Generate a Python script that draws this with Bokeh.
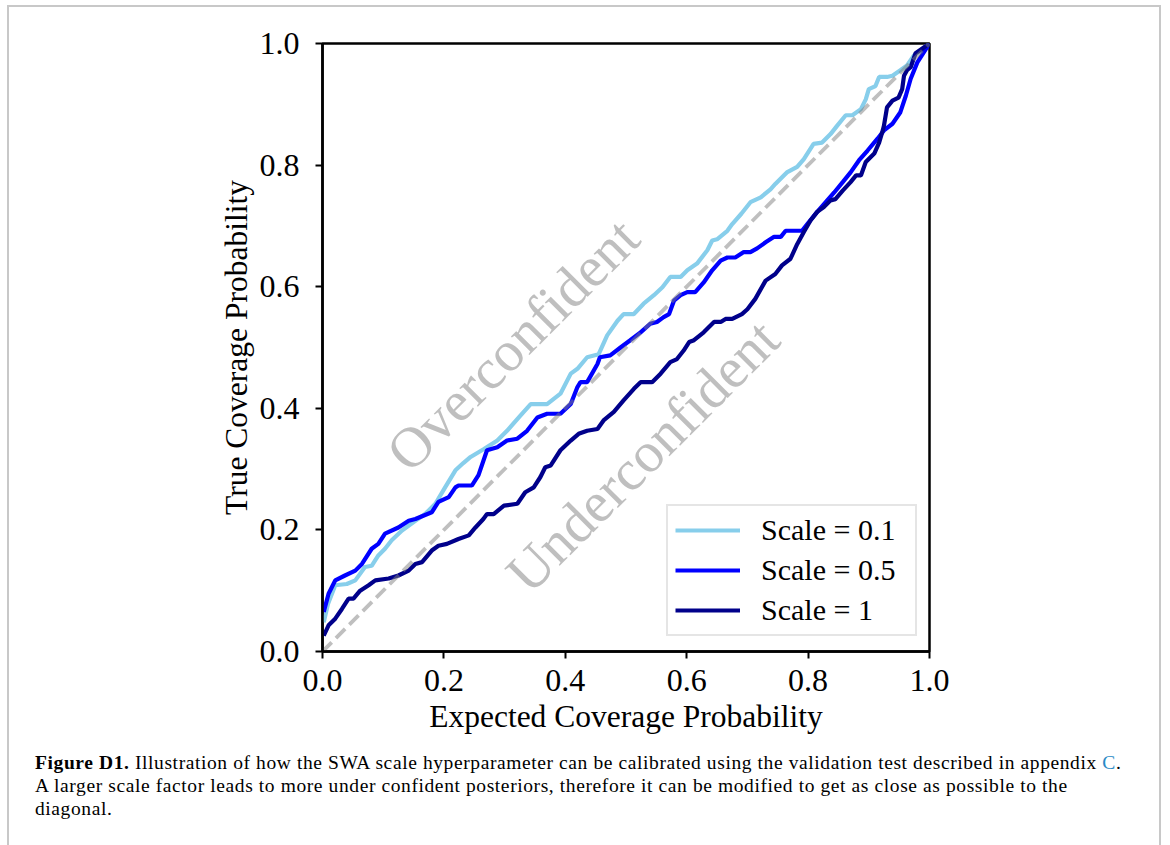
from bokeh.plotting import figure
from bokeh.layouts import column
from bokeh.models import (Range1d, FixedTicker, PrintfTickFormatter, Legend, LegendItem,
                          Label, Div)
from bokeh.embed import file_html
from bokeh.resources import INLINE

# ---- data ----
x_s01 = [0.002, 0.009, 0.021, 0.040, 0.054, 0.070, 0.081, 0.092, 0.103, 0.114,
         0.131, 0.153, 0.169, 0.186, 0.202, 0.219, 0.232, 0.244, 0.266, 0.288,
         0.304, 0.326, 0.343, 0.370, 0.392, 0.409, 0.420, 0.436, 0.455, 0.469,
         0.486, 0.496, 0.513, 0.529, 0.546, 0.560, 0.573, 0.590, 0.601, 0.617,
         0.634, 0.642, 0.650, 0.667, 0.675, 0.690, 0.705, 0.722, 0.738, 0.746,
         0.760, 0.765, 0.782, 0.793, 0.809, 0.823, 0.837, 0.848, 0.862, 0.873,
         0.887, 0.895, 0.900, 0.911, 0.917, 0.930, 0.939, 0.952, 0.963, 0.974,
         1.0]
y_s01 = [0.048, 0.078, 0.109, 0.111, 0.117, 0.139, 0.141, 0.158, 0.169, 0.183,
         0.199, 0.215, 0.226, 0.243, 0.270, 0.298, 0.310, 0.320, 0.333, 0.347,
         0.363, 0.388, 0.407, 0.407, 0.424, 0.457, 0.465, 0.484, 0.489, 0.520,
         0.544, 0.555, 0.555, 0.572, 0.586, 0.599, 0.616, 0.616, 0.627, 0.638,
         0.660, 0.676, 0.678, 0.692, 0.703, 0.720, 0.739, 0.747, 0.760, 0.769,
         0.783, 0.788, 0.797, 0.810, 0.835, 0.837, 0.851, 0.865, 0.882, 0.882,
         0.892, 0.908, 0.925, 0.930, 0.945, 0.945, 0.947, 0.956, 0.964, 0.980,
         1.0]

x_s05 = [0.002, 0.010, 0.021, 0.037, 0.054, 0.065, 0.081, 0.092, 0.103, 0.125,
         0.142, 0.153, 0.180, 0.191, 0.208, 0.219, 0.224, 0.246, 0.257, 0.271,
         0.288, 0.304, 0.321, 0.337, 0.354, 0.370, 0.392, 0.409, 0.420, 0.425,
         0.436, 0.453, 0.457, 0.474, 0.491, 0.507, 0.524, 0.540, 0.551, 0.562,
         0.571, 0.579, 0.590, 0.601, 0.614, 0.628, 0.642, 0.656, 0.667, 0.680,
         0.694, 0.705, 0.716, 0.730, 0.744, 0.755, 0.763, 0.790, 0.801, 0.815,
         0.829, 0.843, 0.857, 0.870, 0.884, 0.898, 0.914, 0.925, 0.939, 0.952,
         0.961, 0.969, 0.980, 1.0]
y_s05 = [0.065, 0.095, 0.117, 0.125, 0.133, 0.144, 0.169, 0.177, 0.194, 0.204,
         0.215, 0.218, 0.229, 0.246, 0.254, 0.270, 0.273, 0.273, 0.290, 0.331,
         0.336, 0.347, 0.350, 0.363, 0.385, 0.391, 0.391, 0.407, 0.435, 0.443,
         0.443, 0.473, 0.484, 0.487, 0.500, 0.512, 0.525, 0.539, 0.542, 0.550,
         0.555, 0.577, 0.586, 0.591, 0.591, 0.607, 0.627, 0.643, 0.648, 0.648,
         0.657, 0.657, 0.663, 0.673, 0.682, 0.682, 0.692, 0.692, 0.706, 0.723,
         0.739, 0.755, 0.772, 0.788, 0.808, 0.824, 0.843, 0.857, 0.868, 0.887,
         0.914, 0.942, 0.969, 1.0]

x_s1 = [0.002, 0.010, 0.021, 0.032, 0.043, 0.051, 0.062, 0.076, 0.087, 0.109,
        0.125, 0.142, 0.153, 0.164, 0.180, 0.191, 0.205, 0.224, 0.241, 0.252,
        0.265, 0.271, 0.282, 0.299, 0.321, 0.334, 0.348, 0.359, 0.367, 0.376,
        0.392, 0.409, 0.422, 0.436, 0.453, 0.463, 0.480, 0.496, 0.513, 0.524,
        0.543, 0.557, 0.573, 0.584, 0.595, 0.604, 0.612, 0.628, 0.645, 0.656,
        0.664, 0.675, 0.691, 0.700, 0.713, 0.730, 0.746, 0.757, 0.771, 0.782,
        0.793, 0.804, 0.815, 0.826, 0.837, 0.845, 0.857, 0.870, 0.879, 0.887,
        0.895, 0.909, 0.917, 0.923, 0.925, 0.930, 0.939, 0.949, 0.955, 0.958,
        0.963, 0.969, 0.977, 1.0]
y_s1 = [0.026, 0.043, 0.054, 0.070, 0.087, 0.087, 0.100, 0.109, 0.117, 0.120,
        0.125, 0.133, 0.144, 0.147, 0.166, 0.174, 0.177, 0.185, 0.191, 0.204,
        0.218, 0.226, 0.226, 0.240, 0.243, 0.262, 0.270, 0.287, 0.303, 0.306,
        0.331, 0.347, 0.358, 0.363, 0.366, 0.380, 0.394, 0.413, 0.432, 0.443,
        0.443, 0.457, 0.476, 0.481, 0.495, 0.509, 0.512, 0.525, 0.542, 0.542,
        0.547, 0.547, 0.555, 0.563, 0.580, 0.610, 0.621, 0.635, 0.646, 0.670,
        0.690, 0.709, 0.723, 0.731, 0.742, 0.744, 0.758, 0.772, 0.783, 0.783,
        0.805, 0.819, 0.837, 0.857, 0.865, 0.895, 0.906, 0.911, 0.925, 0.947,
        0.956, 0.961, 0.984, 1.0]

diag_x = [0.0, 1.0]
diag_y = [0.0, 1.0]

series_labels = ["Scale = 0.1", "Scale = 0.5", "Scale = 1"]
series_colors = ["#87CEEB", "#0000FF", "#00008B"]
tick_values = [0.0, 0.2, 0.4, 0.6, 0.8, 1.0]

x_label = "Expected Coverage Probability"
y_label = "True Coverage Probability"
caption_bold = "Figure D1."
caption_line1 = "Illustration of how the SWA scale hyperparameter can be calibrated using the validation test described in appendix"
caption_link = "C"
caption_line2 = "A larger scale factor leads to more under confident posteriors, therefore it can be modified to get as close as possible to the"
caption_line3 = "diagonal."

SERIF = "Liberation Serif"

# ---- figure ----
p = figure(width=1170, height=751, output_backend="svg", toolbar_location=None,
           x_range=Range1d(0, 1), y_range=Range1d(0, 1),
           min_border_left=322, min_border_right=241,
           min_border_top=43, min_border_bottom=100)
p.background_fill_color = "white"
p.border_fill_color = "white"
p.grid.visible = False
p.outline_line_color = "black"
p.outline_line_width = 2.5

for ax in (p.xaxis[0], p.yaxis[0]):
    ax.ticker = FixedTicker(ticks=tick_values)
    ax.formatter = PrintfTickFormatter(format="%.1f")
    ax.axis_line_width = 2.5
    ax.major_tick_line_width = 2
    ax.major_tick_out = 7
    ax.major_tick_in = 0
    ax.minor_tick_line_color = None
    ax.major_label_text_font = SERIF
    ax.major_label_text_font_size = "32px"
    ax.major_label_text_color = "black"
    ax.axis_label_text_font = SERIF
    ax.axis_label_text_font_size = "31.5px"
    ax.axis_label_text_font_style = "normal"
    ax.axis_label_text_color = "black"

p.xaxis.axis_label = x_label
p.yaxis.axis_label = y_label
p.xaxis.major_label_standoff = 11
p.yaxis.major_label_standoff = 16
p.xaxis.axis_label_standoff = 5
p.yaxis.axis_label_standoff = 3

# region labels
p.add_layout(Label(x=0.313, y=0.505, text="Overconfident", angle=45, angle_units="deg",
                   text_align="center", text_baseline="middle", text_font=SERIF,
                   text_font_size="57px", text_color="gray", text_alpha=0.5))
p.add_layout(Label(x=0.527, y=0.322, text="Underconfident", angle=45, angle_units="deg",
                   text_align="center", text_baseline="middle", text_font=SERIF,
                   text_font_size="57px", text_color="gray", text_alpha=0.5))

renderers = []
for xs, ys, col in zip([x_s01, x_s05, x_s1], [y_s01, y_s05, y_s1], series_colors):
    r = p.line(xs, ys, line_color=col, line_width=4.2)
    renderers.append(r)

p.line(diag_x, diag_y, line_color="gray", line_alpha=0.5, line_width=3.8, line_dash="13 6")

legend = Legend(items=[LegendItem(label=l, renderers=[r]) for l, r in zip(series_labels, renderers)],
                location=(344, 15), label_text_font=SERIF, label_text_font_size="30px",
                label_text_color="black",
                glyph_width=65, glyph_height=28, label_height=28, label_width=147,
                spacing=6, padding=7, margin=0, label_standoff=21,
                border_line_color="#cccccc", border_line_width=2,
                background_fill_color="white", background_fill_alpha=1.0)
p.add_layout(legend)

# caption (HTML text) + light grey page frame
cap_html = (
    '<div style="position:fixed;left:7px;top:5px;width:1154px;height:900px;'
    'border-left:2px solid #c8c8c8;border-top:2px solid #c8c8c8;border-right:2px solid #c8c8c8;'
    'box-sizing:border-box;pointer-events:none;"></div>'
    '<div style="font-family:\'Liberation Serif\';font-size:19.5px;line-height:23px;color:black;'
    'letter-spacing:0.6px;white-space:nowrap;padding-left:35px;margin:0;">'
    f'<b>{caption_bold}</b> {caption_line1} '
    f'<span style="color:#2a8ac6">{caption_link}</span>.<br>'
    f'{caption_line2}<br>{caption_line3}</div>'
)
cap_div = Div(text=cap_html, width=1170, height=94, margin=(0, 0, 0, 0))

layout = column(p, cap_div, spacing=0)
open("out.html", "w").write(file_html(layout, INLINE))
